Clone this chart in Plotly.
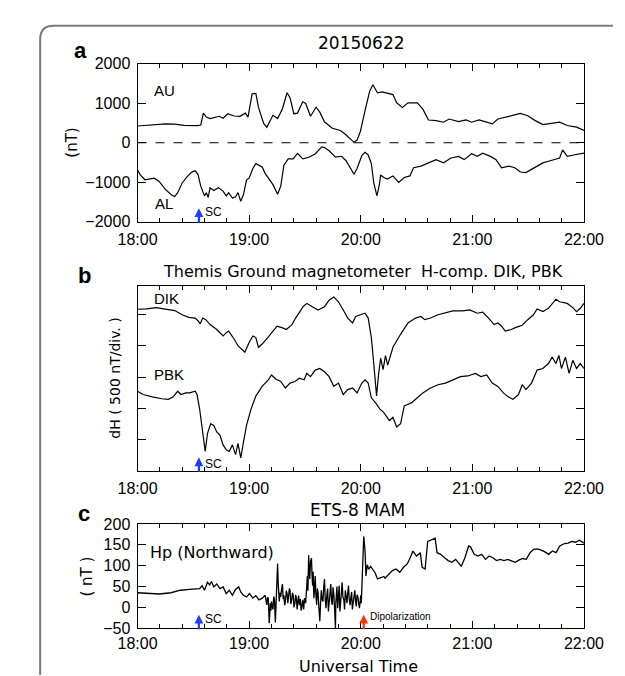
import plotly.graph_objects as go

# ---------------- data (minutes after 18:00 UT, value) ----------------
HOUR_TICKS = [0, 60, 120, 180, 240]
HOUR_LABELS = ["18:00", "19:00", "20:00", "21:00", "22:00"]

AU = [(0, 424), (10, 460), (15, 480), (20, 473), (25, 440), (32, 432), (34, 450), (35.4, 750),
      (37, 650), (39, 612), (41, 640), (44, 670), (46, 620), (48.5, 735), (52, 677), (55, 670),
      (58, 750), (59.4, 650), (61.6, 1240), (63.6, 1250), (65, 900), (67.8, 490), (69.5, 390),
      (72.8, 694), (75.3, 612), (77.9, 860), (80.4, 1265), (82, 1140), (84, 735), (86, 750),
      (88.8, 1036), (90.4, 995), (93, 670), (96, 900), (98, 775), (100.5, 530), (104.7, 367),
      (109, 310), (111.4, 228), (114.8, 65), (116.4, 10), (118, 65), (119.8, 285), (122.3, 816),
      (124.8, 1305), (126.5, 1470), (129, 1265), (131.5, 1290), (134.3, 1260), (137.3, 1220),
      (139.3, 1012), (142.4, 890), (145.4, 1012), (150.4, 1012), (153.4, 850), (156.4, 576),
      (160.5, 560), (164.5, 519), (167.5, 600), (172.6, 535), (176.6, 576), (179.6, 519),
      (183.6, 576), (187.7, 519), (190.7, 478), (193.7, 600), (197.7, 642), (201.8, 683),
      (205.8, 741), (209.8, 683), (213.8, 560), (217.9, 461), (221.9, 494), (226.9, 519),
      (231, 436), (236, 395), (240, 313)]

AL = [(0, -694), (1.5, -816), (4, -938), (6.5, -914), (9, -898), (11.6, -979), (15, -1183),
      (18.3, -1322), (20, -1363), (21.6, -1265), (24, -1020), (26.7, -857), (29, -751),
      (31, -710), (32.5, -800), (34, -1100), (36, -1346), (37, -1265), (38, -1387), (39, -1142),
      (41, -1208), (43.5, -1142), (46, -1224), (47.7, -1346), (49, -1265), (51, -1400),
      (52.7, -1370), (54, -1265), (55.5, -1485), (57, -1306), (58.6, -938), (60, -898),
      (62, -653), (63.6, -530), (65, -571), (67, -612), (68.6, -775), (70.3, -898), (72.8, -1061),
      (75.3, -1306), (77, -1101), (78.7, -571), (81, -408), (83.7, -408), (86, -269), (88.8, -408),
      (92, -367), (95.5, -286), (99, -106), (100.5, -122), (103, -204), (106.4, -367),
      (109.7, -343), (112, -449), (114.8, -694), (116.4, -800), (118, -653), (120.6, -326),
      (122.3, -245), (124, -310), (125.7, -530), (127, -1020), (128.7, -1346), (130, -1061),
      (130.7, -816), (132.4, -881), (134.3, -922), (137.3, -840), (140.4, -1004), (143.4, -880),
      (146.4, -840), (148.4, -634), (152.4, -593), (156.4, -510), (160.5, -428), (164.5, -510),
      (168.5, -387), (172.6, -346), (175.6, -428), (179.6, -280), (182.6, -346), (185.6, -263),
      (189.7, -346), (192.7, -428), (195.7, -634), (199.7, -593), (202.8, -634), (205.8, -741),
      (208.8, -757), (211.8, -675), (214.8, -593), (217.9, -510), (220.9, -469), (223.9, -428),
      (226.9, -387), (228.5, -181), (231, -346), (235, -305), (240, -263)]

DIK = [(0, 2580), (5, 2585), (10, 2605), (15, 2585), (20, 2559), (24, 2492), (27.5, 2450),
       (31, 2440), (32.5, 2398), (33.7, 2347), (35, 2440), (36.7, 2414), (39, 2336), (42.6, 2258),
       (46, 2155), (47.7, 2207), (49, 2233), (52, 2103), (54, 2000), (57.7, 1896), (60, 2051),
       (62, 2155), (63.6, 2129), (65, 1974), (67, 2026), (70, 2129), (73, 2233), (75, 2310),
       (78, 2284), (80, 2258), (83, 2336), (85, 2440), (89, 2621), (91, 2673), (94, 2621),
       (97, 2569), (100.5, 2621), (103, 2725), (105.5, 2776), (108, 2699), (110.6, 2569),
       (113, 2440), (115.6, 2362), (117.3, 2466), (119.8, 2492), (122.3, 2517), (124, 2440),
       (125.7, 2129), (127, 1714), (128.5, 1200), (129.6, 1550), (130.7, 1800), (132, 1620),
       (133.3, 1840), (134.5, 1690), (137.3, 1974), (141.4, 2181), (145.4, 2362), (149.4, 2440),
       (152.4, 2466), (154.4, 2414), (157.5, 2440), (161.5, 2492), (165.5, 2517), (169.5, 2554),
       (174.6, 2554), (178.6, 2569), (182.6, 2517), (185.6, 2533), (188.7, 2440), (191.7, 2336),
       (193.7, 2362), (195.7, 2310), (197.7, 2233), (200.8, 2258), (203.8, 2295), (206.8, 2326),
       (209.8, 2414), (212.8, 2492), (214.8, 2585), (217.9, 2543), (220.9, 2595), (224.9, 2740),
       (226.9, 2699), (231, 2673), (234, 2606), (236, 2543), (238, 2595), (240, 2673)]

PBK = [(0, 1274), (3, 1222), (8, 1186), (13, 1155), (16.6, 1145), (19, 1181), (21.6, 1274),
       (23.3, 1222), (26, 1248), (28, 1248), (31, 1274), (32, 1222), (33.4, 989), (34.7, 679),
       (36.4, 316), (37.6, 601), (39.3, 756), (41, 730), (42.6, 627), (44.3, 575), (46, 420),
       (47.7, 342), (49.3, 316), (51, 420), (52.7, 264), (54, 445), (55.5, 212), (57, 471),
       (58.6, 730), (61, 989), (63.6, 1197), (67, 1352), (70.3, 1456), (72, 1533), (74.5, 1466),
       (77, 1430), (79.5, 1326), (82, 1404), (84.6, 1430), (87, 1481), (89.6, 1456), (91, 1559),
       (93, 1507), (95.5, 1611), (98, 1637), (100.5, 1585), (103, 1507), (105.5, 1352),
       (108, 1404), (110.6, 1222), (113, 1300), (115.6, 1326), (118, 1248), (120.6, 1404),
       (122.3, 1456), (124, 1404), (125.7, 1170), (128.2, 1080), (130.3, 990), (132.3, 938),
       (135.4, 808), (137.3, 860), (139.3, 704), (141.4, 756), (143.4, 1041), (145.4, 1067),
       (147.4, 1093), (150.4, 1171), (153.4, 1248), (157.5, 1326), (161.5, 1378), (165.5, 1404),
       (169.5, 1456), (173.6, 1507), (177.6, 1518), (181.6, 1559), (184.6, 1507), (187.7, 1533),
       (190.7, 1404), (193.7, 1352), (196.7, 1248), (198.7, 1197), (201.8, 1145), (204.8, 1222),
       (206.8, 1378), (208.8, 1300), (211.8, 1404), (214.8, 1611), (217.9, 1637), (220.9, 1715),
       (222.9, 1818), (224.9, 1715), (226.5, 1844), (227.9, 1637), (230, 1818), (232, 1559),
       (234, 1766), (236, 1637), (238, 1715), (240, 1637)]

HP = [(0, 35), (5, 34), (11.6, 32), (18, 35), (23, 41), (28, 43), (31.7, 45), (33.4, 45),
      (34.7, 52), (36, 41), (37.6, 60), (38.8, 54), (39.8, 62), (41, 49), (42.6, 56), (44.3, 45),
      (46, 49), (47.7, 33), (49.3, 41), (51, 29), (52.7, 43), (54.4, 49), (55.5, 37), (56.9, 29),
      (58.6, 25), (60.2, 33), (62, 22), (63.6, 28), (65.3, 18), (67, 22), (68.6, 29), (69.0, 12),
      (69.5, 6), (69.9, 24), (70.3, 22), (70.8, -38), (71.1, 8), (71.4, 10), (71.7, -8), (72, 14),
      (72.4, 2), (72.8, -5), (73.2, 26), (73.6, 20), (74.1, -36), (74.4, 10), (74.7, 45),
      (75.0, 80), (75.3, 105), (75.6, 60), (75.8, 40), (76.2, 14), (76.6, 35), (77, 25),
      (77.4, 42), (77.9, 56), (78.3, 20), (78.7, 29), (79.1, 5), (79.5, 14), (80, 40), (80.4, 33),
      (80.8, 10), (81.2, 22), (81.6, 45), (82, 41), (82.4, 8), (82.9, 18), (83.3, 35), (83.7, 29),
      (84.1, 0), (84.6, 10), (85, 30), (85.4, 22), (85.8, -5), (86.2, 14), (86.6, 28), (87, 5),
      (87.5, 20), (88, -8), (88.4, 15), (88.8, 18), (89.3, -5), (89.8, 22), (90.4, 10),
      (90.8, 35), (91.3, 75), (91.6, 40), (92, 125), (92.3, 90), (92.6, 68), (93, 110),
      (93.5, 118), (93.8, 80), (94.1, 52), (94.4, 85), (94.8, 22), (95.1, 40), (95.5, 75),
      (95.9, 30), (96.3, 6), (96.7, 45), (97.1, 33), (97.5, 0), (98, -33), (98.4, 10), (98.8, 41),
      (99.2, 20), (99.7, 14), (100.1, 50), (100.5, 68), (100.9, 20), (101.3, -2), (101.8, 30),
      (102.2, 45), (102.6, -10), (103, 14), (103.4, 40), (103.9, 56), (104.3, 15), (104.7, 6),
      (105.1, 48), (105.5, 33), (105.9, 0), (106.4, -50), (106.6, 10), (106.9, 29), (107.2, 50),
      (107.6, -2), (108, 25), (108.4, 52), (108.8, -10), (109.2, 6), (109.6, 35), (110, 60),
      (110.4, 25), (110.9, 18), (111.3, -5), (111.7, 41), (112.1, 30), (112.6, 10), (113, 35),
      (113.4, 52), (113.8, 20), (114.3, 5), (114.7, 25), (115.1, 37), (115.5, -5), (115.9, 14),
      (116.3, 30), (116.8, 41), (117.2, 15), (117.6, 2), (118, 30), (118.5, 25), (118.9, 8),
      (119.3, -2), (119.7, 15), (120, 29), (120.3, 10), (120.6, 52), (121.1, 122), (121.6, 170),
      (122.3, 137), (122.8, 75), (123.5, 102), (124.3, 91), (125.3, 98), (126.5, 91),
      (127.7, 83), (129, 68), (130.7, 72), (132.4, 74), (133, 70), (135, 80), (137, 88),
      (139, 92), (141, 84), (143, 96), (145, 104), (147, 123), (148, 135), (150, 123),
      (152, 131), (153, 96), (154.6, 92), (156, 158), (158, 162), (160, 166), (161, 131),
      (163, 127), (165, 119), (167, 112), (169, 108), (171, 115), (173, 104), (174, 98),
      (176, 119), (178, 147), (179, 145), (181, 127), (183, 123), (185, 127), (187, 115),
      (189, 123), (191, 119), (193, 112), (195, 115), (197, 112), (199, 115), (201, 112),
      (203, 108), (205, 113), (207, 117), (209, 115), (211, 131), (213, 139), (215, 140),
      (217, 137), (219, 133), (221, 127), (223, 135), (225, 131), (227, 147), (229.5, 153),
      (231.5, 154), (233.5, 158), (235.5, 156), (237.5, 161), (240, 154)]

SC_TIME = 33          # sudden commencement, 18:33 UT
DIPOL_TIME = 121.6    # dipolarization, ~20:02 UT

# ---------------- layout helpers ----------------
W, H = 625, 676


def px(x):
    return x / W


def py(y):
    return 1 - y / H


LBL = "Liberation Sans, Arial, sans-serif"
IDL_FONT = "DejaVu Sans, sans-serif"
TICK_FONT = dict(family=LBL, size=16, color="black")

fig = go.Figure()


def add_line(data, xa, ya, width=1.2):
    t, v = zip(*data)
    fig.add_trace(go.Scatter(x=list(t), y=list(v), mode="lines",
                             line=dict(color="black", width=width),
                             xaxis=xa, yaxis=ya, showlegend=False, hoverinfo="skip"))


add_line(AU, "x", "y")
add_line(AL, "x", "y")
add_line(DIK, "x2", "y2")
add_line(PBK, "x2", "y2")
add_line(HP, "x3", "y3", width=1.3)


def xaxis(anchor, standoff=3):
    return dict(domain=[px(117), px(594)], anchor=anchor, range=[0, 240],
                tickmode="array", tickvals=HOUR_TICKS, ticktext=HOUR_LABELS,
                ticks="inside", ticklen=7, tickwidth=1, tickcolor="black",
                showline=True, linecolor="black", linewidth=1, mirror="ticks",
                showgrid=False, zeroline=False, tickfont=TICK_FONT, ticklabelstandoff=standoff,
                minor=dict(tick0=0, dtick=12, ticks="inside", ticklen=4, tickwidth=1,
                           tickcolor="black", showgrid=False))


def yaxis(top, bottom, anchor, rng, dtick, labels=True):
    return dict(domain=[py(bottom), py(top)], anchor=anchor, range=rng,
                tick0=0, dtick=dtick, ticks="inside", ticklen=8, tickwidth=1,
                tickcolor="black", showline=True, linecolor="black", linewidth=1,
                mirror="ticks", showgrid=False, zeroline=False,
                showticklabels=labels, tickfont=TICK_FONT, ticklabelstandoff=3)


fig.update_layout(
    width=W, height=H, autosize=False,
    margin=dict(l=0, r=0, t=0, b=0),
    paper_bgcolor="white", plot_bgcolor="white",
    xaxis=xaxis("y"),
    yaxis=yaxis(49, 211, "x", [-2000, 2000], 1000),
    xaxis2=xaxis("y2"),
    yaxis2=yaxis(277, 467, "x2", [0, 2950], 500, labels=False),
    xaxis3=xaxis("y3", standoff=1),
    yaxis3=yaxis(521, 628, "x3", [-50, 200], 50),
)

# zero dashed line, panel a
fig.add_shape(type="line", xref="x domain", yref="y", x0=0, x1=1, y0=0, y1=0,
              line=dict(color="black", width=1.2, dash="dash"))

# outer rounded frame (left + top edges)
fig.add_shape(type="path", xref="paper", yref="paper",
              path=(f"M {px(13)},{py(676)} L {px(13)},{py(24)} "
                    f"Q {px(13)},{py(10)} {px(27)},{py(10)} L {px(625)},{py(10)}"),
              line=dict(color="#7a7a7a", width=2))

ann = []


def text(x, y, s, size=15, family=IDL_FONT, angle=0, xanchor="center", color="black"):
    ann.append(dict(x=px(x), y=py(y), xref="paper", yref="paper", text=s, showarrow=False,
                    xanchor=xanchor, yanchor="middle", textangle=angle,
                    font=dict(family=family, size=size, color=color)))


text(56, 35, "<b>a</b>", size=22, family=LBL)
text(60, 266, "<b>b</b>", size=22, family=LBL)
text(60, 510, "<b>c</b>", size=22, family=LBL)
text(356, 28, "20150622", size=17)
text(358, 262, "Themis Ground magnetometer  H-comp. DIK, PBK", size=16)
text(352, 507, "ETS-8 MAM", size=17)
text(353, 667, "Universal Time", size=16)
text(47, 130, "(nT)", size=15, angle=-90)
text(93, 372, "dH ( 500 nT/div. )", size=14, angle=-90)
text(63, 575, "( nT )", size=15, angle=-90)
text(146, 76, "AU", size=15, family=LBL)
text(145, 192, "AL", size=15, family=LBL)
text(148, 290, "DIK", size=15, family=LBL)
text(151, 368, "PBK", size=15, family=LBL)
text(128, 550, "Hp (Northward)", size=16, xanchor="left")

BLUE = "#1f3cff"
RED = "#ff3300"

HEAD_POS = {"y": 0.085, "y2": 0.075, "y3": 0.13}


def arrow(xa, ya, t, color, label, lsize, lrise):
    ann.append(dict(x=t, y=HEAD_POS[ya], xref=xa, yref=f"{ya} domain", ax=0, ay=16,
                    showarrow=True, arrowhead=2, arrowsize=0.8, arrowwidth=2.2,
                    arrowcolor=color, text=""))
    ann.append(dict(x=t, y=lrise, xref=xa, yref=f"{ya} domain", text=label, showarrow=False,
                    xanchor="left", yanchor="middle", xshift=4,
                    font=dict(family=LBL, size=lsize, color="black")))


arrow("x", "y", SC_TIME, BLUE, "SC", 12, 0.06)
arrow("x2", "y2", SC_TIME, BLUE, "SC", 12, 0.04)
arrow("x3", "y3", SC_TIME, BLUE, "SC", 12, 0.09)
arrow("x3", "y3", DIPOL_TIME, RED, "Dipolarization", 10, 0.11)

fig.update_layout(annotations=ann)
fig.write_html("out.html")
